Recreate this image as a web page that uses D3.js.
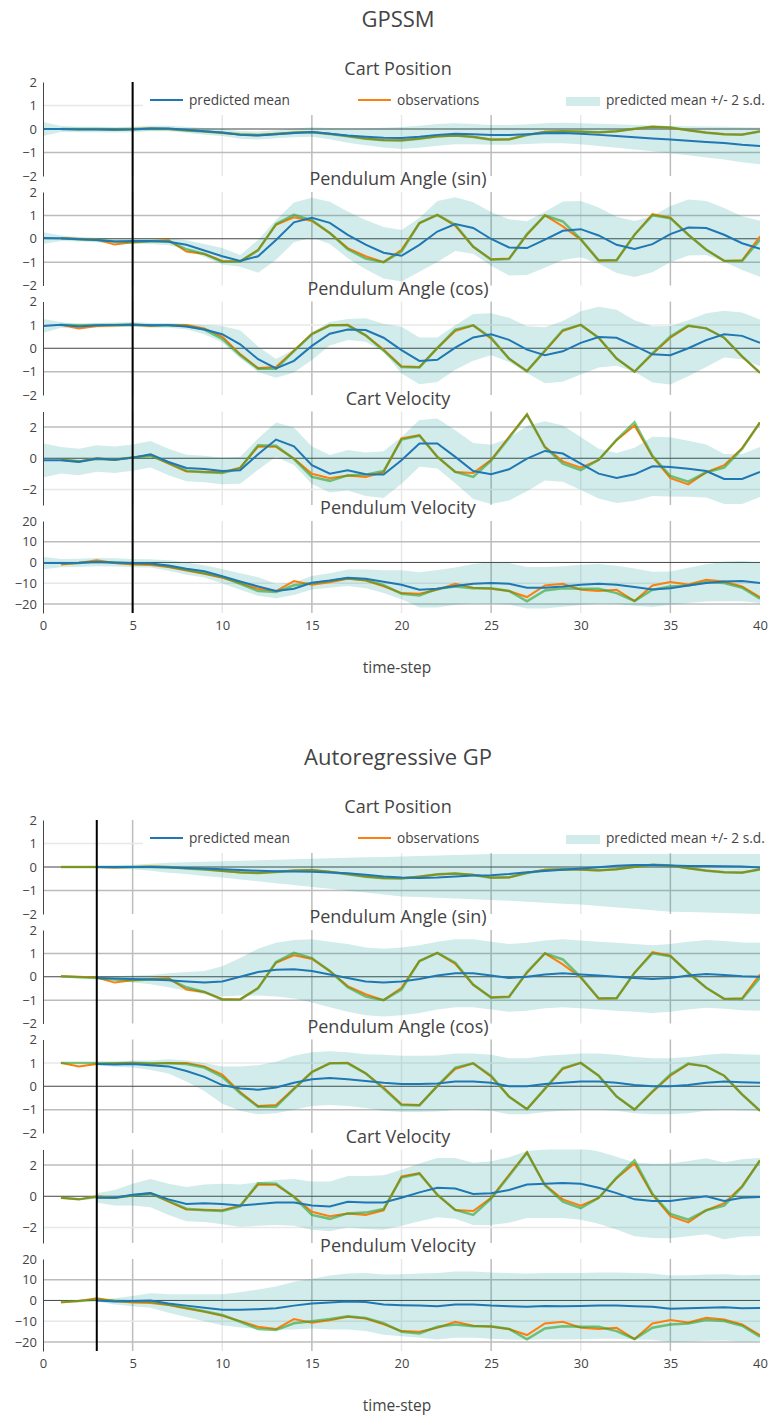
<!DOCTYPE html>
<html><head><meta charset="utf-8">
<script src="https://cdn.jsdelivr.net/npm/d3@7"></script>
<style>body{margin:0;background:#fff}svg{display:block;font-family:"Open Sans",sans-serif}</style>
</head><body><svg id="c" width="769" height="1418"></svg>
<script>
// ---------------- DATA ----------------
const timeSteps = d3.range(0, 41);
const panelTitles = ["Cart Position", "Pendulum Angle (sin)", "Pendulum Angle (cos)", "Cart Velocity", "Pendulum Velocity"];
const yDomains = [[-2, 2], [-2, 2], [-2, 2], [-3, 3], [-24.4, 20]];
const yTickValues = [[-2, -1, 0, 1, 2], [-2, -1, 0, 1, 2], [-2, -1, 0, 1, 2], [-2, 0, 2], [-20, -10, 0, 10, 20]];
const xTickValues = [0, 5, 10, 15, 20, 25, 30, 35, 40];
const legendLabels = ["predicted mean", "observations", "predicted mean +/- 2 s.d."];

// observations, t = 1..40
const obsCartPos = [0, 0, 0, -0.02, 0, 0.02, 0, -0.05, -0.1, -0.17, -0.23, -0.25, -0.2, -0.15, -0.13, -0.2, -0.3, -0.4, -0.47, -0.48, -0.4, -0.32, -0.28, -0.33, -0.45, -0.45, -0.25, -0.12, -0.1, -0.12, -0.15, -0.1, 0, 0.1, 0.05, -0.05, -0.15, -0.22, -0.23, -0.1];
const obsSin = [0.02, 0, -0.03, -0.25, -0.15, -0.1, -0.05, -0.55, -0.65, -0.95, -0.97, -0.47, 0.6, 0.92, 0.76, 0.24, -0.4, -0.75, -1.0, -0.47, 0.67, 1.02, 0.55, -0.35, -0.88, -0.85, 0.17, 1.0, 0.53, -0.04, -0.94, -0.92, 0.17, 1.05, 0.9, 0.17, -0.47, -0.95, -0.92, 0.1];
const obsCos = [1.0, 0.85, 0.95, 0.97, 1.0, 0.95, 1.0, 1.0, 0.85, 0.5, -0.25, -0.85, -0.8, -0.1, 0.62, 0.98, 1.0, 0.55, -0.05, -0.77, -0.8, 0.0, 0.74, 0.98, 0.41, -0.44, -0.98, -0.12, 0.74, 1.0, 0.45, -0.44, -1.0, -0.25, 0.45, 0.95, 0.85, 0.45, -0.35, -1.05];
const obsCartVel = [-0.1, -0.2, 0.0, -0.1, 0.05, 0.2, -0.35, -0.85, -0.87, -0.9, -0.6, 0.75, 0.73, -0.02, -1.0, -1.28, -1.1, -1.2, -0.9, 1.27, 1.48, 0.08, -0.88, -0.95, -0.1, 1.38, 2.82, 0.73, -0.2, -0.6, -0.1, 1.16, 2.1, 0.1, -1.28, -1.68, -0.9, -0.45, 0.65, 2.3];
const obsPendVel = [-1.0, -0.3, 1.0, -0.3, -1.0, -1.2, -2.2, -3.9, -5.5, -7.4, -10, -12.7, -13.8, -9.0, -10.8, -9.6, -7.9, -8.7, -11.5, -14.8, -15.1, -13.2, -10.3, -12.2, -12.7, -13.8, -16.7, -11.1, -10.3, -13.2, -13.8, -13.2, -18.6, -11.1, -9.5, -10.6, -8.4, -9.2, -11.6, -16.7];

// true states, t = 1..40
const trueCartPos = [0, 0, 0, -0.01, 0, 0.01, 0, -0.06, -0.11, -0.16, -0.22, -0.26, -0.21, -0.16, -0.14, -0.21, -0.31, -0.41, -0.48, -0.49, -0.41, -0.31, -0.28, -0.34, -0.46, -0.44, -0.26, -0.13, -0.1, -0.11, -0.14, -0.1, 0.01, 0.1, 0.06, -0.05, -0.16, -0.22, -0.24, -0.11];
const trueSin = [0.02, -0.02, -0.05, -0.12, -0.15, -0.12, -0.1, -0.45, -0.65, -0.98, -0.97, -0.5, 0.63, 1.02, 0.8, 0.25, -0.45, -0.85, -1.0, -0.55, 0.67, 1.02, 0.6, -0.33, -0.9, -0.87, 0.2, 1.0, 0.74, -0.02, -0.92, -0.92, 0.17, 1.0, 0.88, 0.17, -0.47, -0.94, -0.95, -0.05];
const trueCos = [1.0, 1.0, 1.0, 1.0, 1.0, 0.98, 0.98, 0.95, 0.8, 0.4, -0.3, -0.88, -0.88, -0.12, 0.6, 0.98, 0.98, 0.55, -0.1, -0.8, -0.82, 0.02, 0.8, 0.98, 0.45, -0.45, -0.98, -0.1, 0.78, 1.0, 0.45, -0.44, -1.0, -0.22, 0.5, 0.97, 0.85, 0.45, -0.35, -1.05];
const trueCartVel = [-0.1, -0.2, -0.05, -0.1, 0.05, 0.15, -0.3, -0.8, -0.9, -0.95, -0.65, 0.84, 0.8, -0.05, -1.2, -1.45, -1.1, -1.05, -0.82, 1.2, 1.45, 0.1, -0.88, -1.2, -0.15, 1.3, 2.8, 0.7, -0.35, -0.77, -0.1, 1.2, 2.3, 0.15, -1.14, -1.5, -0.9, -0.6, 0.6, 2.3];
const truePendVel = [-0.5, -0.3, 0.3, -0.2, -0.5, -0.6, -2.0, -3.5, -5.2, -7.0, -10.3, -13.8, -14.3, -11.0, -10.0, -9.0, -7.6, -8.5, -11.0, -15.1, -15.9, -12.7, -11.6, -12.4, -12.5, -13.8, -18.8, -13.5, -12.4, -12.7, -12.7, -14.8, -18.6, -13.2, -11.6, -11.1, -9.5, -9.9, -12.2, -17.5];

// GPSSM predicted mean, t = 0..40
const gpssmMeanCartPos = [0, 0, -0.02, -0.02, -0.03, -0.02, 0.02, 0.02, -0.03, -0.1, -0.15, -0.25, -0.28, -0.22, -0.17, -0.13, -0.2, -0.28, -0.33, -0.37, -0.38, -0.33, -0.25, -0.2, -0.22, -0.25, -0.25, -0.22, -0.18, -0.17, -0.2, -0.25, -0.3, -0.35, -0.4, -0.45, -0.5, -0.55, -0.6, -0.67, -0.72];
const gpssmMeanSin = [0.03, 0.02, -0.02, -0.05, -0.12, -0.1, -0.1, -0.13, -0.26, -0.5, -0.75, -0.95, -0.75, -0.05, 0.7, 0.9, 0.68, 0.17, -0.25, -0.6, -0.73, -0.26, 0.31, 0.63, 0.46, -0.01, -0.37, -0.4, -0.04, 0.34, 0.41, 0.14, -0.26, -0.44, -0.23, 0.2, 0.48, 0.46, 0.17, -0.19, -0.43];
const gpssmMeanCos = [0.95, 1.0, 0.93, 0.98, 1.0, 1.02, 0.98, 0.98, 0.93, 0.8, 0.6, 0.17, -0.47, -0.86, -0.54, 0.1, 0.62, 0.8, 0.78, 0.45, -0.08, -0.54, -0.49, 0.03, 0.46, 0.6, 0.36, -0.06, -0.3, -0.13, 0.23, 0.48, 0.45, 0.1, -0.26, -0.3, 0.0, 0.35, 0.6, 0.53, 0.23];
const gpssmMeanCartVel = [-0.13, -0.13, -0.24, -0.02, -0.1, 0.04, 0.26, -0.24, -0.62, -0.69, -0.82, -0.77, 0.26, 1.2, 0.77, -0.45, -0.99, -0.77, -1.03, -1.05, -0.13, 0.95, 0.95, 0.09, -0.82, -1.03, -0.71, -0.02, 0.47, 0.3, -0.34, -0.99, -1.27, -1.03, -0.52, -0.56, -0.67, -0.82, -1.33, -1.33, -0.88];
const gpssmMeanPendVel = [-0.3, -0.3, -0.2, 0.2, 0.0, -0.3, -0.5, -1.5, -3.0, -4.3, -6.7, -9.2, -11.6, -13.8, -12.7, -9.8, -8.7, -7.4, -7.9, -9.3, -10.8, -13.2, -12.7, -11.4, -10.3, -9.9, -10.3, -12.2, -12.2, -11.6, -10.8, -10.3, -10.8, -11.9, -13.0, -12.4, -11.1, -9.9, -9.2, -9.0, -9.9];

// GPSSM 2 s.d. half-widths, t = 0..40
const gpssmTwoSdCartPos = [0.3, 0.13, 0.12, 0.12, 0.12, 0.12, 0.12, 0.12, 0.13, 0.14, 0.15, 0.16, 0.17, 0.17, 0.18, 0.2, 0.24, 0.3, 0.36, 0.42, 0.47, 0.47, 0.46, 0.45, 0.43, 0.42, 0.42, 0.42, 0.43, 0.44, 0.45, 0.47, 0.5, 0.52, 0.55, 0.58, 0.62, 0.66, 0.7, 0.74, 0.78];
const gpssmTwoSdSin = [0.25, 0.12, 0.1, 0.1, 0.1, 0.1, 0.12, 0.15, 0.2, 0.28, 0.35, 0.25, 0.7, 0.85, 0.85, 0.85, 0.9, 1.0, 1.05, 1.1, 1.1, 1.15, 1.3, 1.15, 1.1, 1.15, 1.2, 1.15, 1.2, 1.25, 1.2, 1.2, 1.2, 1.2, 1.2, 1.2, 1.2, 1.15, 1.15, 1.15, 1.2];
const gpssmTwoSdCos = [0.3, 0.12, 0.1, 0.1, 0.1, 0.1, 0.1, 0.1, 0.12, 0.2, 0.35, 0.6, 0.55, 0.4, 0.5, 0.6, 0.5, 0.45, 0.5, 0.6, 1.0, 1.0, 0.95, 0.95, 1.0, 0.9, 0.95, 1.0, 1.2, 1.3, 1.35, 1.3, 1.2, 1.1, 1.2, 1.25, 1.2, 1.15, 1.0, 1.0, 1.0];
const gpssmTwoSdCartVel = [1.1, 0.85, 0.85, 0.85, 0.85, 0.85, 0.85, 0.85, 0.85, 0.85, 0.85, 0.86, 1.0, 1.1, 1.2, 1.2, 1.2, 1.3, 1.4, 1.5, 1.5, 1.5, 1.6, 1.7, 1.8, 1.9, 2.0, 2.1, 1.9, 1.8, 1.7, 1.6, 1.6, 1.7, 1.9, 1.9, 1.8, 1.7, 1.6, 1.6, 1.6];
const gpssmTwoSdPendVel = [3, 2, 2, 2, 2, 2, 2, 2.5, 3, 3, 3.5, 4, 4.5, 3.5, 3, 3.2, 3.5, 4, 4.5, 5.5, 7, 8.5, 9, 9, 9.5, 10, 10, 10, 10, 9.8, 9.7, 9.5, 9.2, 9, 8.5, 8, 8.5, 9, 9.5, 9.7, 9.7];

// Autoregressive GP predicted mean, t = 0..40 (null = not predicted)
const argpMeanCartPos = [null, null, null, 0, 0, 0, 0, -0.02, -0.04, -0.06, -0.1, -0.13, -0.16, -0.18, -0.19, -0.2, -0.23, -0.27, -0.33, -0.4, -0.45, -0.47, -0.45, -0.4, -0.36, -0.35, -0.3, -0.22, -0.17, -0.12, -0.06, -0.01, 0.05, 0.08, 0.08, 0.06, 0.04, 0.04, 0.03, 0.02, -0.02];
const argpMeanSin = [null, null, null, -0.05, -0.08, -0.1, -0.12, -0.15, -0.2, -0.25, -0.2, 0.0, 0.2, 0.3, 0.32, 0.25, 0.1, -0.05, -0.2, -0.25, -0.2, -0.1, 0.05, 0.15, 0.15, 0.05, -0.05, 0.0, 0.1, 0.15, 0.1, 0.05, 0.0, -0.05, -0.1, -0.05, 0.05, 0.12, 0.08, 0.02, 0.0];
const argpMeanCos = [null, null, null, 0.95, 0.93, 0.95, 0.9, 0.85, 0.65, 0.4, 0.05, -0.1, -0.15, -0.05, 0.15, 0.3, 0.35, 0.3, 0.22, 0.15, 0.1, 0.1, 0.12, 0.2, 0.2, 0.15, 0.0, 0.0, 0.1, 0.15, 0.2, 0.2, 0.15, 0.05, 0.0, 0.0, 0.05, 0.15, 0.2, 0.17, 0.15];
const argpMeanCartVel = [null, null, null, -0.1, -0.1, 0.1, 0.2, -0.2, -0.5, -0.45, -0.5, -0.6, -0.5, -0.4, -0.4, -0.6, -0.65, -0.35, -0.4, -0.4, -0.1, 0.25, 0.55, 0.5, 0.15, 0.2, 0.4, 0.75, 0.8, 0.85, 0.8, 0.55, 0.2, -0.2, -0.3, -0.3, -0.15, 0.0, -0.3, -0.1, -0.05];
const argpMeanPendVel = [null, null, null, 0, -0.5, -0.3, 0, -1.5, -2.5, -3.5, -4.5, -4.5, -4.2, -3.8, -2.5, -1.5, -1.0, -0.5, -0.8, -2.0, -2.3, -2.5, -2.8, -2.0, -2.0, -2.5, -2.8, -3.0, -2.7, -2.8, -2.7, -2.5, -2.5, -2.8, -3.0, -4.0, -3.8, -3.5, -3.3, -3.8, -3.6];

// Autoregressive GP band edges / half-widths, t = 0..40
const argpUpperCartPos = [null, null, null, 0.05, 0.08, 0.1, 0.14, 0.18, 0.2, 0.22, 0.25, 0.27, 0.29, 0.31, 0.33, 0.35, 0.37, 0.39, 0.41, 0.43, 0.45, 0.47, 0.49, 0.51, 0.53, 0.55, 0.55, 0.55, 0.55, 0.55, 0.55, 0.55, 0.55, 0.55, 0.55, 0.55, 0.55, 0.55, 0.55, 0.55, 0.55];
const argpLowerCartPos = [null, null, null, -0.05, -0.08, -0.1, -0.16, -0.24, -0.3, -0.38, -0.45, -0.53, -0.61, -0.69, -0.77, -0.85, -0.93, -1.01, -1.09, -1.17, -1.25, -1.28, -1.31, -1.34, -1.37, -1.4, -1.44, -1.48, -1.52, -1.56, -1.6, -1.66, -1.72, -1.78, -1.84, -1.9, -1.92, -1.94, -1.96, -1.98, -2.0];
const argpTwoSdSin = [null, null, null, 0.05, 0.1, 0.15, 0.2, 0.3, 0.4, 0.5, 0.65, 0.8, 1.0, 1.15, 1.25, 1.35, 1.4, 1.45, 1.45, 1.45, 1.45, 1.45, 1.45, 1.45, 1.45, 1.45, 1.45, 1.45, 1.45, 1.45, 1.45, 1.45, 1.45, 1.45, 1.45, 1.45, 1.45, 1.45, 1.45, 1.45, 1.45];
const argpTwoSdCos = [null, null, null, 0.05, 0.1, 0.15, 0.2, 0.3, 0.45, 0.6, 0.8, 0.95, 1.05, 1.1, 1.15, 1.15, 1.15, 1.15, 1.15, 1.2, 1.2, 1.2, 1.2, 1.2, 1.2, 1.2, 1.2, 1.2, 1.2, 1.2, 1.2, 1.2, 1.2, 1.2, 1.2, 1.2, 1.2, 1.2, 1.2, 1.2, 1.2];
const argpTwoSdCartVel = [null, null, null, 0.3, 0.5, 0.7, 0.9, 1.0, 1.1, 1.2, 1.3, 1.35, 1.4, 1.45, 1.5, 1.55, 1.6, 1.65, 1.7, 1.75, 1.8, 1.85, 1.9, 1.95, 2.0, 2.05, 2.1, 2.15, 2.2, 2.25, 2.3, 2.32, 2.34, 2.36, 2.38, 2.4, 2.42, 2.44, 2.46, 2.48, 2.5];
const argpTwoSdPendVel = [null, null, null, 0.5, 1.5, 2.5, 3.5, 4.5, 5.5, 6.5, 7.5, 8.5, 9.5, 10.5, 11.5, 12, 13, 13.5, 14, 14.5, 15, 15.5, 16, 16, 16, 16, 16, 16, 16, 16, 16, 16, 16, 16, 16, 16, 16, 16, 16, 16, 16];

// ---------------- BUILD ----------------
const observations = [obsCartPos, obsSin, obsCos, obsCartVel, obsPendVel];
const trueStates = [trueCartPos, trueSin, trueCos, trueCartVel, truePendVel];
function sym(mean, sd) { return { lo: mean.map((m, i) => m == null ? null : m - sd[i]), hi: mean.map((m, i) => m == null ? null : m + sd[i]) }; }
const figures = [
  { title: "GPSSM", oy: 0, split: 5,
    means: [gpssmMeanCartPos, gpssmMeanSin, gpssmMeanCos, gpssmMeanCartVel, gpssmMeanPendVel],
    bands: [sym(gpssmMeanCartPos, gpssmTwoSdCartPos), sym(gpssmMeanSin, gpssmTwoSdSin), sym(gpssmMeanCos, gpssmTwoSdCos), sym(gpssmMeanCartVel, gpssmTwoSdCartVel), sym(gpssmMeanPendVel, gpssmTwoSdPendVel)] },
  { title: "Autoregressive GP", oy: 738, split: 3,
    means: [argpMeanCartPos, argpMeanSin, argpMeanCos, argpMeanCartVel, argpMeanPendVel],
    bands: [{ lo: argpLowerCartPos, hi: argpUpperCartPos }, sym(argpMeanSin, argpTwoSdSin), sym(argpMeanCos, argpTwoSdCos), sym(argpMeanCartVel, argpTwoSdCartVel), sym(argpMeanPendVel, argpTwoSdPendVel)] }
];

const svg = d3.select("#c");
const C = { blue: "#1f77b4", orange: "#ff7f0e", green: "#2ca02c", band: "rgba(0,150,136,0.18)", text: "#444", gridL: "#e8e8e8", gridD: "#bcbcbc", zero: "#444" };
const FONT = '"Open Sans",sans-serif';
const panelTop = [82, 192, 301.5, 411.5, 521];
const panelBot = [176, 285.5, 395, 505, 613];
const x = d3.scaleLinear().domain([0, 40]).range([43, 760]);
const gridDark = t => t % 10 === 5;
const hGridDark = [[-1], [1, -1], [-1], [2], [10, -20]];
const fmtInt = d3.format("d");

figures.forEach((fig, fi) => {
  const g = svg.append("g").attr("transform", `translate(0,${fig.oy})`);
  g.append("text").attr("x", 398).attr("y", 27).attr("text-anchor", "middle").attr("font-size", 22).attr("fill", C.text).text(fig.title);
  panelTitles.forEach((pt, p) => {
    const y = d3.scaleLinear().domain(yDomains[p]).range([panelBot[p], panelTop[p]]);
    const pg = g.append("g");
    const cid = `clip${fi}_${p}`;
    pg.append("clipPath").attr("id", cid).append("rect").attr("x", 43).attr("y", panelTop[p]).attr("width", 717).attr("height", panelBot[p] - panelTop[p]);
    pg.selectAll(".vg").data(xTickValues.filter(t => t > 0 && t < 40)).join("line")
      .attr("x1", d => x(d)).attr("x2", d => x(d)).attr("y1", panelTop[p]).attr("y2", panelBot[p])
      .attr("stroke", d => gridDark(d) ? C.gridD : C.gridL).attr("stroke-width", 1.5);
    pg.selectAll(".hg").data(yTickValues[p].filter(v => v !== 0 && y(v) > panelTop[p] + 1 && y(v) < panelBot[p] - 1)).join("line")
      .attr("x1", 43).attr("x2", 760).attr("y1", d => y(d)).attr("y2", d => y(d))
      .attr("stroke", d => hGridDark[p].includes(d) ? C.gridD : C.gridL).attr("stroke-width", 1.5);
    pg.append("line").attr("x1", 43).attr("x2", 760).attr("y1", y(0)).attr("y2", y(0)).attr("stroke", C.zero).attr("stroke-width", 1);
    const cg = pg.append("g").attr("clip-path", `url(#${cid})`);
    const band = fig.bands[p];
    const area = d3.area().defined(t => band.lo[t] != null).x(t => x(t)).y0(t => y(band.lo[t])).y1(t => y(band.hi[t]));
    cg.append("path").datum(timeSteps).attr("d", area).attr("fill", C.band);
    const lineObs = d3.line().x((d, i) => x(i + 1)).y(d => y(d));
    cg.append("path").datum(observations[p]).attr("d", lineObs).attr("fill", "none").attr("stroke", C.orange).attr("stroke-width", 2);
    cg.append("path").datum(trueStates[p]).attr("d", lineObs).attr("fill", "none").attr("stroke", C.green).attr("stroke-opacity", 0.6).attr("stroke-width", 2.5);
    const mean = fig.means[p];
    const lineMean = d3.line().defined(t => mean[t] != null).x(t => x(t)).y(t => y(mean[t]));
    cg.append("path").datum(timeSteps).attr("d", lineMean).attr("fill", "none").attr("stroke", C.blue).attr("stroke-width", 2);
    const ax = d3.axisLeft(y).tickValues(yTickValues[p]).tickSize(0).tickPadding(6).tickFormat(fmtInt);
    const ag = pg.append("g").attr("transform", "translate(43,0)").call(ax);
    ag.select(".domain").attr("stroke", C.zero).attr("stroke-width", 1);
    ag.selectAll("text").attr("font-size", 13).attr("fill", C.text).attr("font-family", FONT);
    g.append("text").attr("x", 398).attr("y", panelTop[p] - 7).attr("text-anchor", "middle").attr("font-size", 18).attr("fill", C.text).text(pt);
  });
  const xa = d3.axisBottom(x).tickValues(xTickValues).tickSize(0).tickPadding(6).tickFormat(fmtInt);
  const xg = g.append("g").attr("transform", `translate(0,${panelBot[4] + 2})`).call(xa);
  xg.select(".domain").remove();
  xg.selectAll("text").attr("font-size", 13).attr("fill", C.text).attr("font-family", FONT);
  g.append("text").attr("x", 397).attr("y", 673).attr("text-anchor", "middle").attr("font-size", 15.5).attr("fill", C.text).text("time-step");
  g.append("rect").attr("x", 143).attr("y", panelTop[0]).attr("width", 626).attr("height", 33).attr("fill", "#fff");
  const ly = 100;
  g.append("line").attr("x1", 150).attr("x2", 183).attr("y1", ly).attr("y2", ly).attr("stroke", C.blue).attr("stroke-width", 2);
  g.append("text").attr("x", 189).attr("y", ly + 4.5).attr("font-size", 13.7).attr("fill", C.text).text(legendLabels[0]);
  g.append("line").attr("x1", 358).attr("x2", 391).attr("y1", ly).attr("y2", ly).attr("stroke", C.orange).attr("stroke-width", 2);
  g.append("text").attr("x", 397).attr("y", ly + 4.5).attr("font-size", 13.7).attr("fill", C.text).text(legendLabels[1]);
  g.append("rect").attr("x", 566).attr("y", ly - 3).attr("width", 34).attr("height", 9).attr("fill", C.band);
  g.append("text").attr("x", 606).attr("y", ly + 4.5).attr("font-size", 13.7).attr("fill", C.text).text(legendLabels[2]);
  g.append("line").attr("x1", x(fig.split)).attr("x2", x(fig.split)).attr("y1", panelTop[0]).attr("y2", panelBot[4]).attr("stroke", "#000").attr("stroke-width", 2);
});
</script></body></html>
